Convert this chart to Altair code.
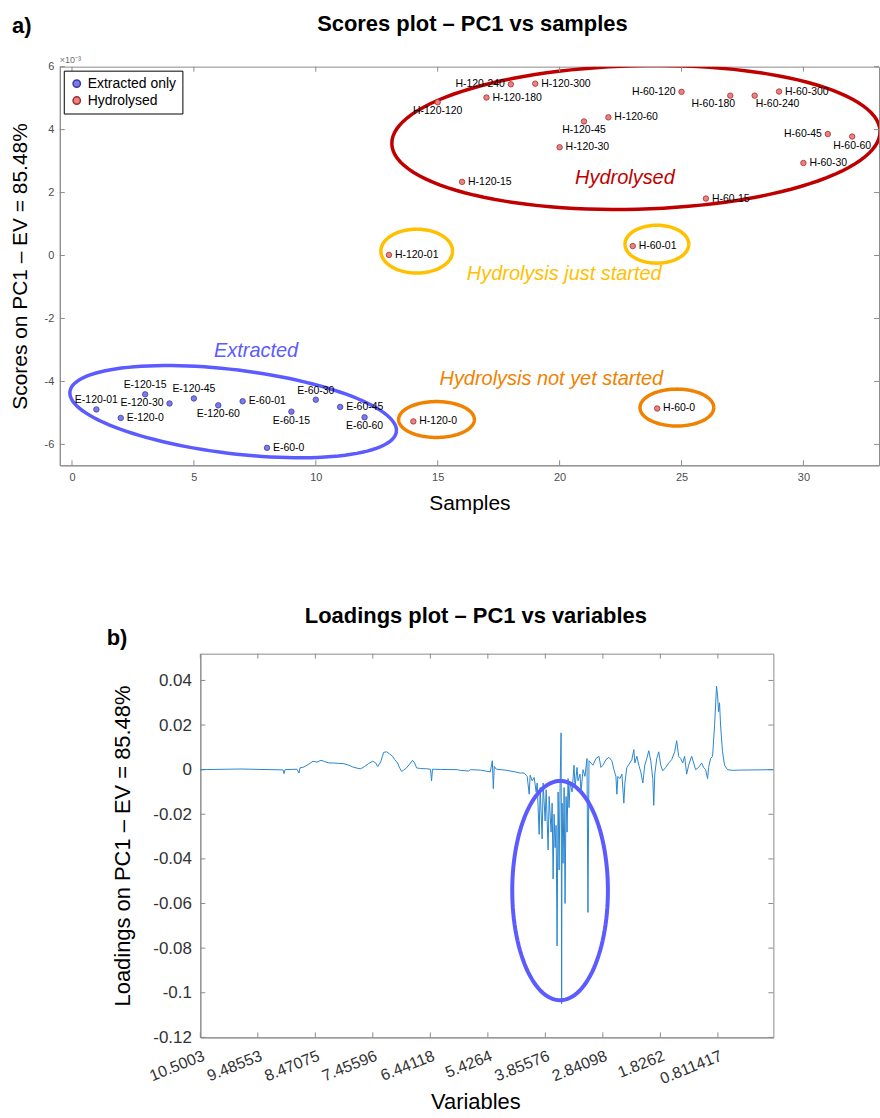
import math
import altair as alt
import pandas as pd

FONT = "Liberation Sans"

# ---------------- scores plot data (values in units of 1e-3) ----------------
sample_names = ["E-120-01", "E-120-0", "E-120-15", "E-120-30", "E-120-45", "E-120-60",
                "E-60-01", "E-60-0", "E-60-15", "E-60-30", "E-60-45", "E-60-60",
                "H-120-01", "H-120-0", "H-120-120", "H-120-15", "H-120-180", "H-120-240",
                "H-120-300", "H-120-30", "H-120-45", "H-120-60", "H-60-01", "H-60-0",
                "H-60-120", "H-60-15", "H-60-180", "H-60-240", "H-60-300", "H-60-30",
                "H-60-45", "H-60-60"]
sample_index = list(range(1, 33))
pc1_scores_e3 = [-4.89, -5.16, -4.41, -4.70, -4.54, -4.76, -4.63, -6.11, -4.96, -4.58, -4.81, -5.14,
                 0.02, -5.27, 4.87, 2.34, 5.02, 5.44, 5.46, 3.44, 4.26, 4.39, 0.30, -4.86,
                 5.20, 1.81, 5.08, 5.08, 5.21, 2.94, 3.86, 3.78]
sample_group = ["Extracted only"] * 12 + ["Hydrolysed"] * 20
scores_x_ticks = [0, 5, 10, 15, 20, 25, 30]
scores_y_ticks = [-6, -4, -2, 0, 2, 4, 6]

# where each point label sits relative to its point
label_place = ["above", "right", "above", "left", "above", "below", "right", "right", "below", "above",
               "right", "below", "right", "right", "below", "right", "right", "left", "right", "right",
               "below", "right", "right", "right", "left", "right", "below_left", "below_right", "right",
               "right", "left", "below"]

note_text = ["Hydrolysed", "Hydrolysis just started", "Extracted", "Hydrolysis not yet started"]
note_x = [22.68, 20.19, 7.55, 19.66]
note_y = [2.45, -0.59, -3.02, -3.91]
note_color = ["#C00000", "#FFC000", "#5B5BFF", "#F08200"]

# ---------------- loadings plot data ----------------
variable_index = [0, 711, 1231, 1438, 1456, 1473, 1681, 1716, 1733, 1802, 1889, 1958, 2028, 2097, 2166,
                  2236, 2322, 2409, 2496, 2582, 2652, 2738, 2790, 2860, 2929, 2998, 3050, 3085, 3137,
                  3189, 3241, 3293, 3345, 3380, 3431, 3466, 3501, 3535, 3587, 3639, 3691, 3726, 3761,
                  3830, 3934, 4003, 4021, 4038, 4177, 4471, 4523, 4662, 4696, 4870, 5043, 5078, 5095,
                  5112, 5147, 5303, 5476, 5563, 5632, 5684, 5719, 5736, 5771, 5806, 5840, 5858, 5892,
                  5910, 5944, 5962, 5996, 6014, 6048, 6066, 6100, 6118, 6135, 6152, 6170, 6187, 6204,
                  6222, 6239, 6256, 6274, 6283, 6291, 6308, 6326, 6343, 6360, 6378, 6395, 6412, 6430,
                  6464, 6499, 6516, 6551, 6568, 6603, 6620, 6655, 6689, 6724, 6741, 6759, 6793, 6828,
                  6880, 6932, 6967, 7001, 7053, 7105, 7157, 7192, 7227, 7244, 7261, 7296, 7331, 7365,
                  7383, 7417, 7469, 7504, 7539, 7556, 7591, 7625, 7660, 7695, 7729, 7764, 7799, 7833,
                  7868, 7885, 7903, 7937, 7972, 8007, 8041, 8093, 8145, 8197, 8249, 8284, 8318, 8353,
                  8388, 8422, 8457, 8492, 8544, 8579, 8613, 8665, 8717, 8752, 8787, 8821, 8839, 8873,
                  8908, 8943, 8977, 8995, 9012, 9029, 9047, 9081, 9116, 9168, 9255, 9376, 9965]
pc1_loadings = [0.0, 0.0003, 0.0, -0.0001, -0.0018, 0.0, 0.0002, -0.0015, 0.0008, 0.0012, 0.0025, 0.0038,
                0.0034, 0.0042, 0.0036, 0.0030, 0.0030, 0.0028, 0.0027, 0.0020, 0.0012, 0.0006, 0.0004,
                0.0015, 0.0028, 0.0038, 0.0030, 0.0014, 0.0035, 0.0078, 0.0080, 0.0070, 0.0060, 0.0045,
                0.0030, 0.0008, -0.0008, -0.0002, 0.0008, 0.0025, 0.0042, 0.0030, 0.0008, 0.0005, 0.0004,
                0.0002, -0.0050, 0.0002, 0.0001, 0.0, -0.0003, -0.0006, 0.0, -0.0002, -0.0010, 0.0040,
                -0.0085, 0.0015, 0.0002, -0.0002, -0.0010, -0.0015, -0.0015, -0.0030, -0.0110, -0.0025,
                -0.0050, -0.0035, -0.0100, -0.0060, -0.0290, -0.0080, -0.0310, -0.0060, -0.0230, -0.0090,
                -0.0360, -0.0120, -0.0280, -0.0150, -0.0490, -0.0200, -0.0350, -0.0250, -0.0790, -0.0100,
                -0.0450, -0.0080, 0.0165, -0.1050, -0.0150, -0.0420, -0.0080, -0.0600, -0.0120, -0.0280,
                -0.0040, -0.0170, -0.0060, -0.0100, 0.0020, -0.0080, 0.0010, -0.0050, -0.0020, -0.0100,
                0.0000, -0.0030, 0.0050, -0.0640, 0.0040, 0.0030, 0.0020, 0.0050, 0.0060, 0.0010, 0.0020,
                0.0045, 0.0055, 0.0040, 0.0000, -0.0030, -0.0110, -0.0030, -0.0040, -0.0020, -0.0150,
                -0.0060, 0.0010, 0.0030, 0.0045, 0.0090, 0.0030, 0.0060, 0.0020, -0.0010, -0.0060, 0.0020,
                0.0050, 0.0085, 0.0040, -0.0040, -0.0160, -0.0020, 0.0050, 0.0080, 0.0020, -0.0005, 0.0010,
                0.0030, 0.0045, 0.0080, 0.0130, 0.0060, 0.0050, 0.0030, 0.0060, -0.0020, 0.0020, 0.0060,
                0.0030, 0.0000, 0.0010, 0.0030, 0.0010, 0.0000, -0.0040, 0.0010, 0.0050, 0.0060, 0.0200,
                0.0375, 0.0330, 0.0260, 0.0300, 0.0200, 0.0080, 0.0020, 0.0000, -0.0003, -0.0002, 0.0]
variable_tick_index = [0, 1000, 2000, 3000, 4000, 5000, 6000, 7000, 8000, 9000]
variable_tick_labels = ["10.5003", "9.48553", "8.47075", "7.45596", "6.44118", "5.4264",
                        "3.85576", "2.84098", "1.8262", "0.811417"]
loadings_y_ticks = [-0.12, -0.1, -0.08, -0.06, -0.04, -0.02, 0, 0.02, 0.04]

# ---------------- layout ----------------
SW, SH = 822, 400
S_XDOM = [-0.5, 33.1]
S_YDOM = [-6.665, 6]
LW, LH = 575, 385
L_XDOM = [0, 9965]
L_YDOM = [-0.12, 0.052]
AXIS_GREY = "#8c8c8c"


def ellipse_rows(name, cx, cy, rx_px, ry_px, ang_deg, color, sx, sy, n=120):
    rows = []
    a = math.radians(ang_deg)
    for k in range(n + 1):
        t = 2 * math.pi * k / n
        X = rx_px * math.cos(t) * math.cos(a) - ry_px * math.sin(t) * math.sin(a)
        Y = rx_px * math.cos(t) * math.sin(a) + ry_px * math.sin(t) * math.cos(a)
        rows.append({"name": name, "k": k, "x": cx + X / sx, "y": cy - Y / sy, "color": color})
    return rows


s_sx = SW / (S_XDOM[1] - S_XDOM[0])
s_sy = SH / (S_YDOM[1] - S_YDOM[0])
score_ellipses = []
score_ellipses += ellipse_rows("red", 23.13, 3.75, 245, 72, -1.5, "#C00000", s_sx, s_sy)
score_ellipses += ellipse_rows("yel1", 14.14, 0.14, 36, 22, 0, "#FFC000", s_sx, s_sy)
score_ellipses += ellipse_rows("yel2", 23.99, 0.36, 32, 19, 0, "#FFC000", s_sx, s_sy)
score_ellipses += ellipse_rows("or1", 14.95, -5.21, 38, 18, 0, "#F08200", s_sx, s_sy)
score_ellipses += ellipse_rows("or2", 24.81, -4.83, 37, 18.5, 0, "#F08200", s_sx, s_sy)
score_ellipses += ellipse_rows("blue", 6.61, -4.96, 165, 42, 7, "#5B5BFF", s_sx, s_sy)
ell_df = pd.DataFrame(score_ellipses)

l_sx = LW / (L_XDOM[1] - L_XDOM[0])
l_sy = LH / (L_YDOM[1] - L_YDOM[0])
lell_df = pd.DataFrame(ellipse_rows("lb", 6256, -0.0542, 48, 110, 0, "#5B5BFF", l_sx, l_sy))

pts = pd.DataFrame({"x": sample_index, "y": pc1_scores_e3, "name": sample_names,
                    "group": sample_group, "place": label_place})
notes = pd.DataFrame({"x": note_x, "y": note_y, "text": note_text, "color": note_color})
one = pd.DataFrame({"v": [0]})

minus_fix = "replace(format(datum.value, '~g'), '\u2212', '-')"


def text_mark(txt, px, py, size, bold=False, align="left", color="black"):
    return alt.Chart(one).mark_text(
        text=txt, font=FONT, fontSize=size, fontWeight="bold" if bold else "normal",
        align=align, baseline="middle", color=color
    ).encode(x=alt.value(px), y=alt.value(py))


sx_enc = alt.X("x:Q", scale=alt.Scale(domain=S_XDOM, nice=False, zero=False),
               axis=alt.Axis(values=scores_x_ticks, title="Samples", labelFontSize=11,
                             labelColor="#4d4d4d", labelPadding=6, titleFontSize=21,
                             titlePadding=10, labelExpr=minus_fix))
sy_enc = alt.Y("y:Q", scale=alt.Scale(domain=S_YDOM, nice=False, zero=False),
               axis=alt.Axis(values=scores_y_ticks, title="Scores on PC1 \u2013 EV = 85.48%",
                             labelFontSize=11, labelColor="#4d4d4d", labelPadding=6,
                             titleFontSize=21, titlePadding=14, labelExpr=minus_fix))

zero_s = alt.Chart(pd.DataFrame({"y": [0]})).mark_rule(
    color="#9a9a9a", strokeDash=[1, 2], strokeWidth=1).encode(y=sy_enc)

sticks_b = alt.Chart(pd.DataFrame({"x": scores_x_ticks})).mark_rule(color=AXIS_GREY).encode(
    x="x:Q", y=alt.value(SH), y2=alt.value(SH - 5))
sticks_t = alt.Chart(pd.DataFrame({"x": scores_x_ticks})).mark_rule(color=AXIS_GREY).encode(
    x="x:Q", y=alt.value(0), y2=alt.value(5))
sticks_l = alt.Chart(pd.DataFrame({"y": scores_y_ticks})).mark_rule(color=AXIS_GREY).encode(
    y="y:Q", x=alt.value(0), x2=alt.value(5))
sticks_r = alt.Chart(pd.DataFrame({"y": scores_y_ticks})).mark_rule(color=AXIS_GREY).encode(
    y="y:Q", x=alt.value(SW - 5), x2=alt.value(SW))

ell = alt.Chart(ell_df).mark_line(strokeWidth=3.5, clip=True).encode(
    x="x:Q", y="y:Q", detail="name:N", order="k:Q", color=alt.Color("color:N", scale=None))

legend = alt.Legend(title=None, orient="top-left", offset=4, strokeColor="black", fillColor="white",
                    padding=6, labelFont=FONT, labelFontSize=14, labelColor="black",
                    symbolType="circle", symbolSize=55, rowPadding=3, cornerRadius=0)
points = alt.Chart(pts).mark_circle(size=30, strokeWidth=0.8, opacity=1).encode(
    x="x:Q", y="y:Q",
    fill=alt.Fill("group:N", scale=alt.Scale(domain=["Extracted only", "Hydrolysed"],
                                             range=["#7B7BF0", "#F08080"]), legend=legend),
    stroke=alt.Stroke("group:N", scale=alt.Scale(domain=["Extracted only", "Hydrolysed"],
                                                 range=["#3c3c9c", "#9c3030"]), legend=legend))

place_style = {
    "right": ("left", 6, 0),
    "left": ("right", -6, 0),
    "below": ("center", 0, 9),
    "above": ("center", 0, -9),
    "below_left": ("center", -17, 8),
    "below_right": ("center", 23, 8),
}
label_layers = []
for p, (al, dx, dy) in place_style.items():
    label_layers.append(
        alt.Chart(pts).transform_filter(alt.datum.place == p).mark_text(
            align=al, baseline="middle", dx=dx, dy=dy, font=FONT, fontSize=10.5, color="black"
        ).encode(x="x:Q", y="y:Q", text="name:N"))

note_layer = alt.Chart(notes).mark_text(font=FONT, fontSize=20, fontStyle="italic",
                                        align="center", baseline="middle").encode(
    x="x:Q", y="y:Q", text="text:N", color=alt.Color("color:N", scale=None))

exp_label = alt.Chart(one).mark_text(text="\u00d710\u207b\u00b3", font=FONT, fontSize=9, color="#6e6e6e",
                                     align="left", baseline="bottom").encode(
    x=alt.value(0), y=alt.value(-2))
a_label = text_mark("a)", -48, -41, 22, bold=True)
s_title = text_mark("Scores plot \u2013 PC1 vs samples", SW / 2 + 3, -43, 22, bold=True, align="center")

scores = alt.layer(
    zero_s, ell, sticks_b, sticks_t, sticks_l, sticks_r, points, *label_layers, note_layer,
    exp_label, a_label, s_title,
).encode(x=sx_enc, y=sy_enc).properties(width=SW, height=SH)

# ---------------- loadings chart ----------------
ldf = pd.DataFrame({"x": variable_index, "y": pc1_loadings})
label_arr = "[" + ",".join("'" + s + "'" for s in variable_tick_labels) + "]"

lx_enc = alt.X("x:Q", scale=alt.Scale(domain=L_XDOM, nice=False, zero=False),
               axis=alt.Axis(values=variable_tick_index, title="Variables", labelAngle=338,
                             labelFontSize=16, labelColor="#333333", labelPadding=10,
                             labelOverlap=False, labelBound=False,
                             labelExpr=label_arr + "[round(datum.value / 1000)]",
                             titleFontSize=22, titlePadding=5, titleX=276))
ly_enc = alt.Y("y:Q", scale=alt.Scale(domain=L_YDOM, nice=False, zero=False),
               axis=alt.Axis(values=loadings_y_ticks, title="Loadings on PC1 \u2013 EV = 85.48%",
                             labelFontSize=17, labelColor="#333333", labelPadding=9,
                             titleFontSize=22, titlePadding=18, labelExpr=minus_fix))

zero_l = alt.Chart(pd.DataFrame({"y": [0]})).mark_rule(
    color="#9a9a9a", strokeDash=[1, 2], strokeWidth=1).encode(y="y:Q")
lticks_b = alt.Chart(pd.DataFrame({"x": variable_tick_index})).mark_rule(color=AXIS_GREY).encode(
    x="x:Q", y=alt.value(LH), y2=alt.value(LH - 5))
lticks_t = alt.Chart(pd.DataFrame({"x": variable_tick_index})).mark_rule(color=AXIS_GREY).encode(
    x="x:Q", y=alt.value(0), y2=alt.value(5))
lticks_l = alt.Chart(pd.DataFrame({"y": loadings_y_ticks})).mark_rule(color=AXIS_GREY).encode(
    y="y:Q", x=alt.value(0), x2=alt.value(5))
lticks_r = alt.Chart(pd.DataFrame({"y": loadings_y_ticks})).mark_rule(color=AXIS_GREY).encode(
    y="y:Q", x=alt.value(LW - 5), x2=alt.value(LW))

lline = alt.Chart(ldf).mark_line(color="#2a86cf", strokeWidth=1).encode(x="x:Q", y="y:Q", order="x:Q")
lell = alt.Chart(lell_df).mark_line(strokeWidth=4, color="#5B5BFF").encode(
    x="x:Q", y="y:Q", order="k:Q")
b_label = text_mark("b)", -94, -16, 22, bold=True)
l_title = text_mark("Loadings plot \u2013 PC1 vs variables", LW / 2 - 11, -38, 22, bold=True, align="center")

loadings = alt.layer(
    zero_l, lticks_b, lticks_t, lticks_l, lticks_r, lline, lell, b_label, l_title
).encode(x=lx_enc, y=ly_enc).properties(width=LW, height=LH)

spacer = alt.Chart(one).mark_point(opacity=0).encode(
    x=alt.value(0), y=alt.value(0)
).properties(width=46, height=1, view=alt.ViewBackground(strokeOpacity=0))

chart = alt.vconcat(
    scores,
    alt.hconcat(spacer, loadings, spacing=0),
    spacing=90,
).properties(
    padding={"left": 8, "top": 10, "right": 0, "bottom": 0},
).configure_view(
    stroke=AXIS_GREY, strokeWidth=1
).configure_axis(
    grid=False, ticks=False, domainColor=AXIS_GREY, labelFont=FONT, titleFont=FONT,
    titleFontWeight="normal", titleColor="black"
)

chart.save("out.html", embed_options={"renderer": "svg", "actions": False})
